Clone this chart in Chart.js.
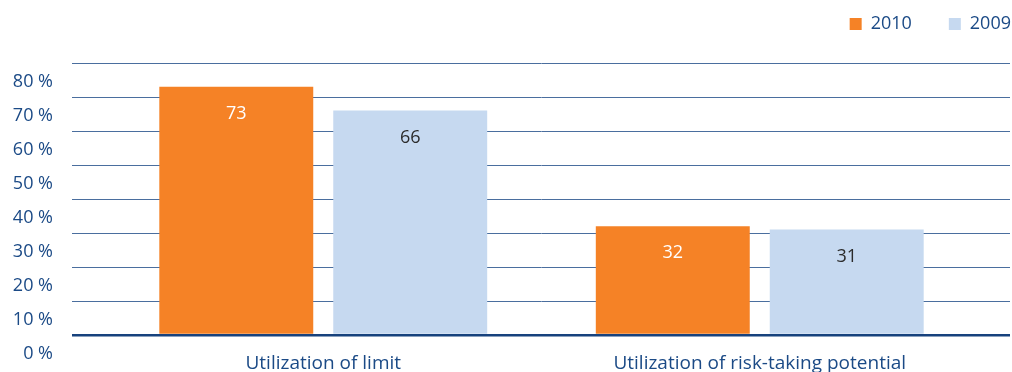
<!DOCTYPE html>
<html>
<head>
<meta charset="utf-8">
<title>Utilization of limit</title>
<script src="https://cdn.jsdelivr.net/npm/chart.js@4"></script>
<style>
  html, body { margin: 0; padding: 0; background: #fff; }
  #wrap { width: 1012px; height: 372px; position: relative; }
</style>
</head>
<body>
<div id="wrap"><canvas id="grafico"></canvas></div>
<script>
'use strict';

// ── Data ─────────────────────────────────────────────
const categories = ['Utilization of limit', 'Utilization of risk-taking potential'];
const values2010 = [73, 32];
const values2009 = [66, 31];
const yTicks = [0, 10, 20, 30, 40, 50, 60, 70, 80];

const NAVY = '#1b4a86';
const GRID = '#4a6e9e';
const BASE = '#17427d';
const FONT = "'Open Sans', sans-serif";

// grid colour / width: thick dark baseline at 0
const gridColor = ctx => (ctx.tick && ctx.tick.value === 0) ? BASE : GRID;
const gridWidth = ctx => (ctx.tick && ctx.tick.value === 0) ? 2.5 : 1;

// legend sits higher and further right than chart.js would put it
const legendFix = {
  id: 'legendFix',
  beforeUpdate(chart) {
    const lg = chart.legend;
    if (lg && !lg._patched) {
      const fit = lg.fit;
      lg.fit = function () { fit.call(this); this.height = 63; };
      lg._patched = true;
    }
  },
  afterLayout(chart) {
    const lg = chart.legend;
    lg.top = -22;
    lg.bottom = lg.top + lg.height;
    lg.right = 1048;
  }
};

// numbers written inside the bars
const barValues = {
  id: 'barValues',
  afterDatasetsDraw(chart) {
    const ctx = chart.ctx;
    ctx.save();
    ctx.font = "18px " + FONT;
    ctx.textAlign = 'center';
    ctx.textBaseline = 'middle';
    chart.data.datasets.forEach((ds, di) => {
      const meta = chart.getDatasetMeta(di);
      ctx.fillStyle = di === 0 ? '#ffffff' : '#2b2b2b';
      meta.data.forEach((bar, i) => {
        ctx.fillText(String(ds.data[i]), bar.x, bar.y + 27);
      });
    });
    ctx.restore();
  }
};

new Chart(document.getElementById('grafico'), {
  type: 'bar',
  data: {
    labels: categories,
    datasets: [
      { label: '2010', data: values2010, backgroundColor: '#f58226', borderWidth: 0,
        categoryPercentage: 0.797, barPercentage: 0.885 },
      { label: '2009', data: values2009, backgroundColor: '#c6d9f0', borderWidth: 0,
        categoryPercentage: 0.797, barPercentage: 0.885 }
    ]
  },
  options: {
    responsive: true,
    maintainAspectRatio: false,
    animation: false,
    layout: { padding: 0 },
    plugins: {
      legend: {
        position: 'top',
        align: 'end',
        labels: { color: NAVY, font: { family: FONT, size: 18 }, boxWidth: 12, boxHeight: 12, padding: 37 }
      },
      tooltip: { enabled: false }
    },
    scales: {
      x: {
        grid: { display: false, drawTicks: false },
        border: { display: false },
        ticks: { color: NAVY, font: { family: FONT, size: 19 }, padding: 17, maxRotation: 0, autoSkip: false },
        afterFit: s => { s.height = 37; }
      },
      y: {
        position: 'left',
        min: 0, max: 80,
        afterBuildTicks: s => { s.ticks = yTicks.map(v => ({ value: v })); },
        grid: { color: gridColor, lineWidth: gridWidth, tickLength: 33, drawTicks: true },
        border: { display: false },
        ticks: { color: NAVY, font: { family: FONT, size: 18 }, padding: 19, labelOffset: 19,
                 callback: v => v + ' %' },
        afterFit: s => { s.width = 105; }
      },
      y2: {
        position: 'right',
        min: 0, max: 80,
        afterBuildTicks: s => { s.ticks = yTicks.map(v => ({ value: v })); },
        grid: { color: gridColor, lineWidth: gridWidth, tickLength: 32, drawTicks: true, drawOnChartArea: false },
        border: { display: false },
        ticks: { display: false },
        afterFit: s => { s.width = 34; }
      }
    }
  },
  plugins: [legendFix, barValues]
});
</script>
</body>
</html>
